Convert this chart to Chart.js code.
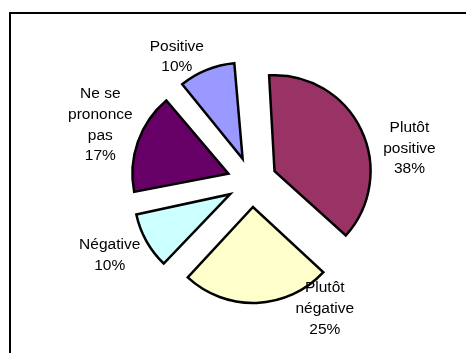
<!DOCTYPE html>
<html>
<head>
<meta charset="utf-8">
<script src="https://cdn.jsdelivr.net/npm/chart.js@4.4.1/dist/chart.umd.min.js"></script>
<style>
	html, body { margin: 0; padding: 0; background: #fff; }
	#wrap { width: 466px; height: 353px; }
</style>
</head>
<body>
<div id="wrap"><canvas id="myChart" width="466" height="353"></canvas></div>
<script>
	// data
	var categories = ['Plutôt positive', 'Plutôt négative', 'Négative', 'Ne se prononce pas', 'Positive'];
	var labelLines = [['Plutôt', 'positive'], ['Plutôt', 'négative'], ['Négative'], ['Ne se', 'prononce', 'pas'], ['Positive']];
	var shares = [38, 25, 10, 17, 10];
	var sliceColors = ['#993366', '#FFFFCC', '#CCFFFF', '#660066', '#9999FF'];

	var pieRadius = 96;
	var explode = 25; // px each slice is pulled out

	// where each label sits: angle shift from the slice middle (deg) and distance from pie centre
	var labelPlace = [
		{ shift: 13.5, dist: 161 },
		{ shift: -27.7, dist: 146 },
		{ shift: 2, dist: 160 },
		{ shift: 1.2, dist: 162 },
		{ shift: -9, dist: 146 }
	];

	var frame = {
		id: 'frame',
		beforeDraw: function (chart) {
			var ctx = chart.ctx;
			ctx.save();
			ctx.fillStyle = '#fff';
			ctx.fillRect(0, 0, chart.width, chart.height);
			ctx.fillStyle = '#000';
			ctx.fillRect(9, 12, 2, chart.height - 12);
			ctx.fillRect(9, 12, chart.width - 9, 2);
			ctx.restore();
		}
	};

	// chart.js grows the radius of offset arcs a bit; pull it back so all slices have the same radius
	var evenRadius = {
		id: 'evenRadius',
		beforeDatasetsDraw: function (chart) {
			chart.getDatasetMeta(0).data.forEach(function (arc) {
				var fix = 1 - Math.sin(Math.min(Math.PI, arc.circumference || 0));
				arc.outerRadius = pieRadius - explode * fix;
			});
		}
	};

	var sliceLabels = {
		id: 'sliceLabels',
		afterDatasetsDraw: function (chart) {
			var ctx = chart.ctx;
			var arcs = chart.getDatasetMeta(0).data;
			ctx.save();
			ctx.font = '15.5px Arial, "Liberation Sans", sans-serif';
			ctx.fillStyle = '#000';
			ctx.textAlign = 'center';
			ctx.textBaseline = 'middle';
			arcs.forEach(function (arc, i) {
				var p = arc.getProps(['x', 'y', 'startAngle', 'endAngle'], true);
				var mid = (p.startAngle + p.endAngle) / 2 + labelPlace[i].shift * Math.PI / 180;
				var cx = p.x + Math.cos(mid) * labelPlace[i].dist;
				var cy = p.y + Math.sin(mid) * labelPlace[i].dist;
				var lines = labelLines[i].concat([shares[i] + '%']);
				var lh = 20.7;
				var top = cy - (lines.length - 1) * lh / 2;
				lines.forEach(function (t, k) {
					ctx.fillText(t, cx, top + k * lh);
				});
			});
			ctx.restore();
		}
	};

	var ctx = document.getElementById('myChart');
	var myChart = new Chart(ctx, {
		type: 'pie',
		data: {
			labels: categories,
			datasets: [{
				data: shares,
				backgroundColor: sliceColors,
				borderColor: '#000',
				borderWidth: 2.5,
				borderJoinStyle: 'miter',
				offset: explode * 4
			}]
		},
		options: {
			responsive: false,
			animation: false,
			devicePixelRatio: 1,
			rotation: -4,
			radius: pieRadius,
			layout: { padding: { left: 58, right: 20, top: 31, bottom: 20 } },
			plugins: {
				legend: { display: false },
				tooltip: { enabled: false }
			}
		},
		plugins: [frame, evenRadius, sliceLabels]
	});
</script>
</body>
</html>
